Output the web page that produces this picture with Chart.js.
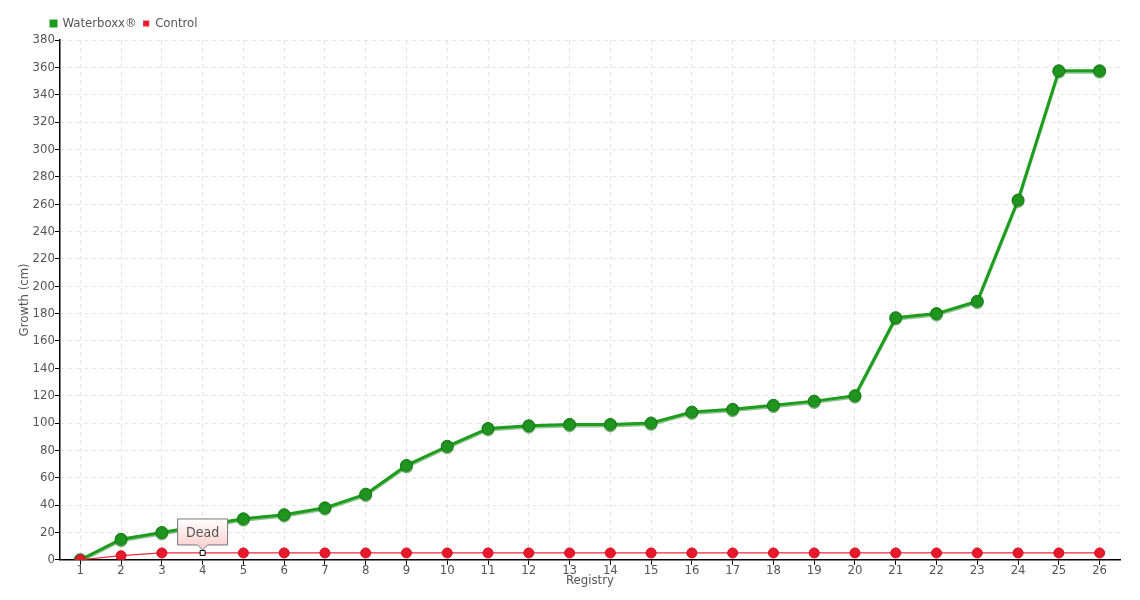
<!DOCTYPE html>
<html>
<head>
<meta charset="utf-8">
<script src="https://cdn.jsdelivr.net/npm/chart.js@4"></script>
<style>
  body { margin: 0; background: #fff; }
  #wrap { width: 1140px; height: 600px; }
</style>
</head>
<body>
<div id="wrap"><canvas id="mychart"></canvas></div>
<script>
var registry = ['1','2','3','4','5','6','7','8','9','10','11','12','13','14','15','16','17','18','19','20','21','22','23','24','25','26'];
var waterboxx = [0, 15, 20, 25, 30, 33, 38, 48, 69, 83, 96, 98, 99, 99, 100, 108, 110, 113, 116, 120, 177, 180, 189, 263, 357.5, 357.5];
var control = [0, 3, 5, 5, 5, 5, 5, 5, 5, 5, 5, 5, 5, 5, 5, 5, 5, 5, 5, 5, 5, 5, 5, 5, 5, 5];
var deadIndex = 3;
var deadLabel = 'Dead';

var fontFamily = '"DejaVu Sans Condensed", "DejaVu Sans", sans-serif';
var textColor = '#555';

// red points, except the one marked dead
var ctrlBg = [], ctrlBorder = [], ctrlStyle = [], ctrlRadius = [];
for (var i = 0; i < control.length; i++) {
    var dead = (i === deadIndex);
    ctrlBg.push(dead ? '#ffffff' : '#e8192c');
    ctrlBorder.push(dead ? '#000000' : '#d5101f');
    ctrlStyle.push(dead ? 'rect' : 'circle');
    ctrlRadius.push(dead ? 3.5 : 5);
}

// small box with caret above the dead point
var deadNote = {
    id: 'deadNote',
    afterDatasetsDraw: function (chart) {
        var pt = chart.getDatasetMeta(1).data[deadIndex];
        if (!pt) return;
        var ctx = chart.ctx;
        var w = 50, h = 26;
        var x = pt.x - w / 2, y = pt.y - 8 - h;
        ctx.save();
        var g = ctx.createLinearGradient(0, y, 0, y + h);
        g.addColorStop(0, '#ffffff');
        g.addColorStop(1, '#fbd3d3');
        ctx.beginPath();
        ctx.moveTo(x, y);
        ctx.lineTo(x + w, y);
        ctx.lineTo(x + w, y + h);
        ctx.lineTo(pt.x + 5, y + h);
        ctx.lineTo(pt.x, y + h + 5);
        ctx.lineTo(pt.x - 5, y + h);
        ctx.lineTo(x, y + h);
        ctx.closePath();
        ctx.fillStyle = g;
        ctx.fill();
        ctx.strokeStyle = '#777';
        ctx.lineWidth = 1;
        ctx.stroke();
        ctx.fillStyle = textColor;
        ctx.font = '14px ' + fontFamily;
        ctx.textAlign = 'center';
        ctx.textBaseline = 'middle';
        ctx.fillText(deadLabel, pt.x, y + h / 2 + 1);
        ctx.restore();
    }
};

// faint shadow under the green line, and nudge the legend to the right
var styling = {
    id: 'styling',
    afterLayout: function (chart) {
        chart.legend.left += 27;
        chart.legend.right += 27;
    },
    beforeDatasetDraw: function (chart, args) {
        if (args.index === 0) {
            chart.ctx.save();
            chart.ctx.shadowColor = 'rgba(20,120,20,0.45)';
            chart.ctx.shadowOffsetY = 1.5;
            chart.ctx.shadowBlur = 0;
        }
    },
    afterDatasetDraw: function (chart, args) {
        if (args.index === 0) chart.ctx.restore();
    }
};

const ctr = document.getElementById('mychart');

new Chart(ctr, {
    type: 'line',
    data: {
        labels: registry,
        datasets: [{
            label: 'Waterboxx®',
            data: waterboxx,
            borderColor: '#1c9e1c',
            backgroundColor: '#1f951f',
            pointBorderColor: '#167a16',
            pointBackgroundColor: '#1f951f',
            borderWidth: 3,
            pointRadius: 6,
            pointBorderWidth: 1,
            tension: 0,
            order: 1
        }, {
            label: 'Control',
            data: control,
            borderColor: '#f0283a',
            backgroundColor: '#e8192c',
            pointBackgroundColor: ctrlBg,
            pointBorderColor: ctrlBorder,
            pointStyle: ctrlStyle,
            pointRadius: ctrlRadius,
            pointBorderWidth: 1,
            borderWidth: 1.2,
            tension: 0,
            order: 0
        }]
    },
    options: {
        responsive: true,
        maintainAspectRatio: false,
        animation: false,
        layout: { padding: { left: 17, right: 20, top: 10, bottom: 12 } },
        plugins: {
            tooltip: { enabled: false },
            legend: {
                position: 'top',
                align: 'start',
                labels: {
                    boxWidth: 5,
                    boxHeight: 5,
                    padding: 7,
                    color: textColor,
                    font: { family: fontFamily, size: 13 },
                    sort: function (a, b) { return a.datasetIndex - b.datasetIndex; }
                }
            }
        },
        scales: {
            x: {
                offset: true,
                grid: {
                    offset: false,
                    color: '#e3e3e3',
                    tickColor: '#000',
                    tickLength: 5
                },
                border: { color: '#000', width: 1.5, dash: [4, 4] },
                ticks: { color: textColor, font: { family: fontFamily, size: 13 }, padding: -2, maxRotation: 0, autoSkip: false },
                title: { display: true, text: 'Registry', color: textColor, font: { family: fontFamily, size: 13 }, padding: { top: -4, bottom: 0 } }
            },
            y: {
                min: 0,
                max: 380,
                ticks: { stepSize: 20, color: textColor, font: { family: fontFamily, size: 13 }, padding: 0 },
                grid: { color: '#e3e3e3', tickColor: '#000', tickLength: 5 },
                border: { color: '#000', width: 1.5, dash: [4, 4] },
                title: { display: true, text: 'Growth (cm)', color: textColor, font: { family: fontFamily, size: 13 }, padding: 0 }
            }
        }
    },
    plugins: [deadNote, styling]
});
</script>
</body>
</html>
